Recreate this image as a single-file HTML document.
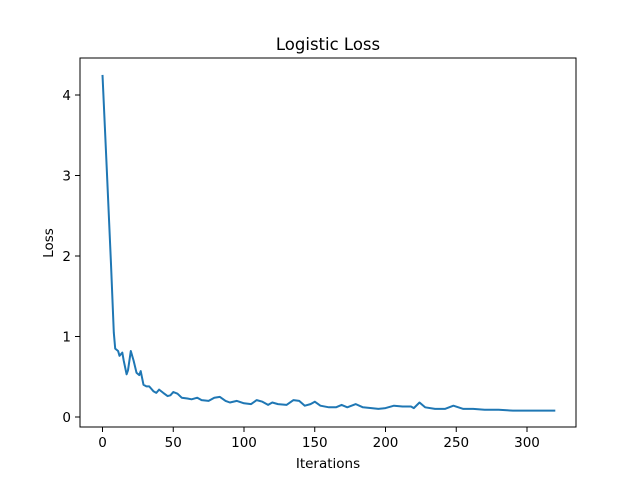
<!DOCTYPE html>
<html><head><meta charset="utf-8"><style>
body{margin:0;background:#fff}
svg{display:block;font-family:"DejaVu Sans","Liberation Sans",sans-serif}
</style></head><body>
<svg id="chart" width="640" height="480">
<rect width="640" height="480" fill="#fff"/>
<text x="328" y="50" text-anchor="middle" font-size="16.5">Logistic Loss</text>
<text x="328" y="468" text-anchor="middle" font-size="13.5">Iterations</text>
<text transform="translate(53,243) rotate(-90)" text-anchor="middle" font-size="13.5">Loss</text>
<g id="ticks"></g>
<path id="line" fill="none" stroke="#1f77b4" stroke-width="2" stroke-linejoin="round"/>
<rect x="80" y="58" width="496" height="369" fill="none" stroke="#000" stroke-width="1"/>
</svg>
<script>
const iterations=[0,3,6,8,9,11,12,14,15,17,18,20,22,24,26,27,29,31,33,36,38,40,43,46,48,50,53,56,60,63,67,70,75,79,83,87,90,95,100,105,109,113,117,120,124,130,135,139,143,147,150,154,160,165,169,173,179,184,190,195,200,206,212,218,220,224,228,235,242,248,255,262,270,280,290,300,310,320];
const loss=[4.25,3.1,1.9,1.05,0.85,0.82,0.76,0.8,0.7,0.53,0.58,0.82,0.7,0.55,0.52,0.57,0.4,0.38,0.38,0.32,0.3,0.34,0.3,0.26,0.27,0.31,0.29,0.24,0.23,0.22,0.24,0.21,0.2,0.24,0.25,0.2,0.18,0.2,0.17,0.16,0.21,0.19,0.15,0.18,0.16,0.15,0.21,0.2,0.14,0.16,0.19,0.14,0.12,0.12,0.15,0.12,0.16,0.12,0.11,0.1,0.11,0.14,0.13,0.13,0.11,0.18,0.12,0.1,0.1,0.14,0.1,0.1,0.09,0.09,0.08,0.08,0.08,0.08];
const xTicks=[0,50,100,150,200,250,300];
const yTicks=[0,1,2,3,4];
const X=v=>102.5+v*(424.5/300);
const Y=v=>417-v*80.5;
const ns="http://www.w3.org/2000/svg";
document.getElementById('line').setAttribute('d',iterations.map((x,i)=>(i?'L':'M')+X(x).toFixed(1)+','+Y(loss[i]).toFixed(1)).join(''));
const g=document.getElementById('ticks');
xTicks.forEach(t=>{
 const l=document.createElementNS(ns,'line');
 l.setAttribute('x1',X(t));l.setAttribute('x2',X(t));l.setAttribute('y1',427);l.setAttribute('y2',432);l.setAttribute('stroke','#000');l.setAttribute('stroke-width','1');
 
 
 g.appendChild(l);
 const tx=document.createElementNS(ns,'text');
 tx.setAttribute('x',X(t));tx.setAttribute('y',447);tx.setAttribute('text-anchor','middle');tx.setAttribute('font-size','13.5');tx.textContent=t;
 
 
 g.appendChild(tx);
});
yTicks.forEach(t=>{
 const l=document.createElementNS(ns,'line');
 l.setAttribute('x1',75);l.setAttribute('x2',80);l.setAttribute('y1',Y(t));l.setAttribute('y2',Y(t));l.setAttribute('stroke','#000');l.setAttribute('stroke-width','1');
 
 
 g.appendChild(l);
 const tx=document.createElementNS(ns,'text');
 tx.setAttribute('x',71);tx.setAttribute('y',Y(t)+5);tx.setAttribute('text-anchor','end');tx.setAttribute('font-size','13.5');tx.textContent=t;
 
 
 g.appendChild(tx);
});
</script>
</body></html>
